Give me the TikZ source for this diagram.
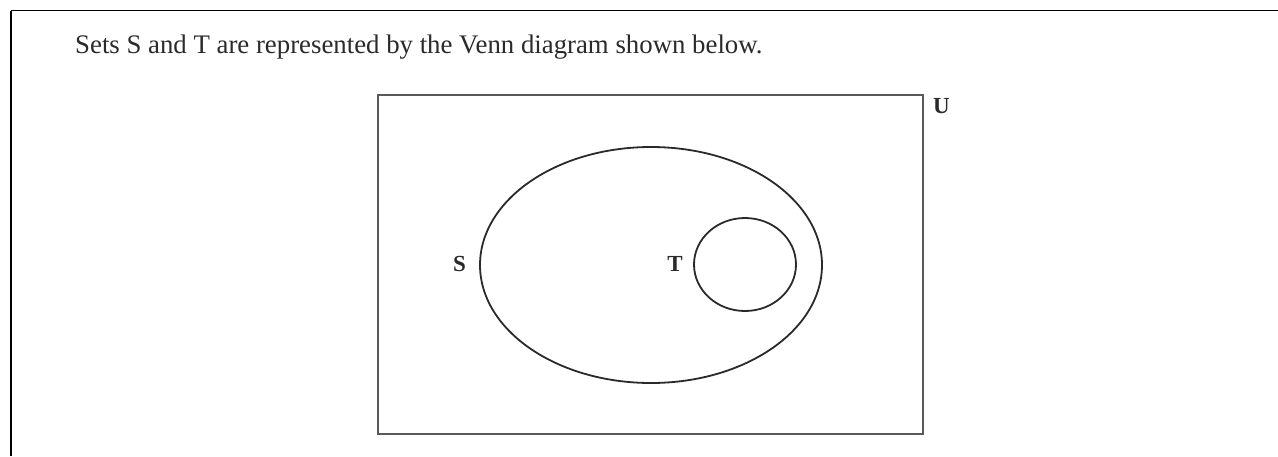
\documentclass[tikz,border=0pt]{standalone}
\usepackage{fontspec}
\setmainfont{Liberation Serif}
\usetikzlibrary{shapes.geometric}
\definecolor{boxGray}{HTML}{5a5a5a}
\definecolor{inkDark}{HTML}{2a2a2a}

\tikzset{
  setlabel/.style={inkDark, font=\fontsize{23}{26}\selectfont\bfseries, inner sep=0pt},
  setline/.style={draw=inkDark, line width=1.8pt}
}

\begin{document}
\begin{tikzpicture}[x=1pt, y=-1pt]
        \useasboundingbox (0,0) rectangle (1278,456);
        % page frame
        \draw[black, line width=2.5pt] (11,456) -- (11,10.5);
        \draw[black, line width=1.3pt] (11,10.5) -- (1278,10.5);
        \node[anchor=base west, inner sep=0pt, inkDark, font=\fontsize{26.8}{30}\selectfont] (title) at (75,53)
          {Sets S and T are represented by the Venn diagram shown below.};
        % universe
        \node[draw=boxGray, line width=2pt, minimum width=545pt, minimum height=339pt, inner sep=0pt] (U) at (650.5,264.5) {};
        \node[setlabel, anchor=north west] (Ulabel) at (933,98) {U};
        % sets
        \node[setline, ellipse, minimum width=342pt, minimum height=236pt, inner sep=0pt] (S) at (651,265) {};
        \node[setline, ellipse, minimum width=102pt, minimum height=93pt, inner sep=0pt] (T) at (745,264.5) {};
        \node[setlabel] (Slabel) at (459.5,263.5) {S};
        \node[setlabel] (Tlabel) at (675,264) {T};
      \end{tikzpicture}
\end{document}
